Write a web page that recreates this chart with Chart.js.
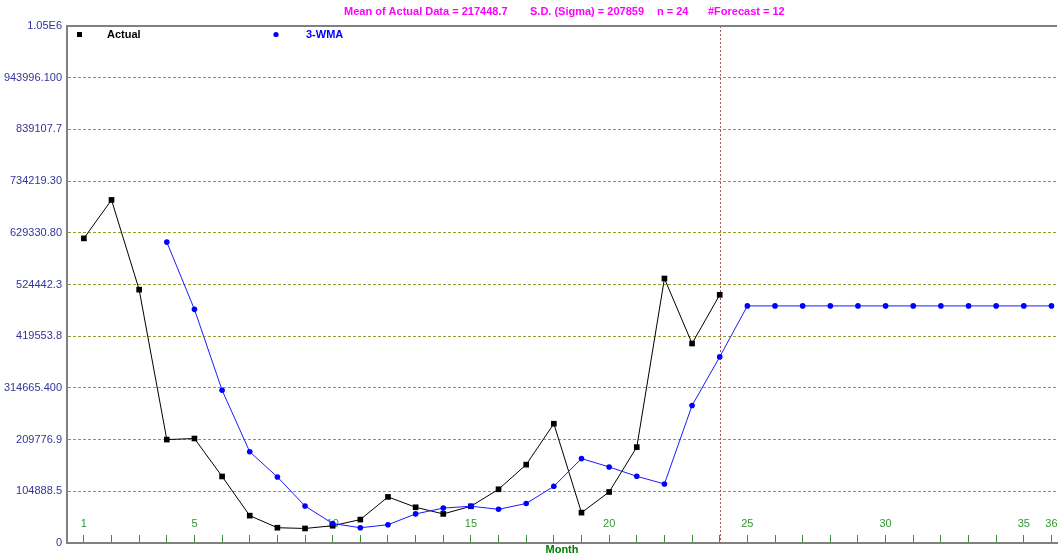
<!DOCTYPE html>
<html>
<head>
<meta charset="utf-8">
<script src="https://cdn.jsdelivr.net/npm/chart.js@4.4.0/dist/chart.umd.min.js"></script>
<style>
html,body{margin:0;padding:0;background:#ffffff;}
#wrap{width:1061px;height:557px;position:relative;}
</style>
</head>
<body>
<div id="wrap"><canvas id="c"></canvas></div>
<script>
// ---- data ----
const months = [1,2,3,4,5,6,7,8,9,10,11,12,13,14,15,16,17,18,19,20,21,22,23,24,25,26,27,28,29,30,31,32,33,34,35,36];
const actual = [618000,696000,514000,209800,212000,135000,55500,31000,29500,35000,47500,93500,72500,59000,74500,109000,159000,242000,61600,103500,194500,536600,404700,503500];
const wma = [null,null,null,610500,474000,310000,185000,134000,75000,39500,31000,37000,59000,70800,74600,68400,80200,115000,171200,154300,135300,119800,279000,377600,481000,481000,481000,481000,481000,481000,481000,481000,481000,481000,481000,481000];
const yTickValues = [0,104888.46,209776.92,314665.38,419553.84,524442.3,629330.76,734219.22,839107.68,943996.14,1048884.6];
const yTickLabels = ['0','104888.5','209776.9','314665.400','419553.8','524442.3','629330.80','734219.30','839107.7','943996.100','1.05E6'];
const xLabelMonths = [1,5,10,15,20,25,30,35,36];
const titleParts = ['Mean of Actual Data = 217448.7','S.D. (Sigma) = 207859','n = 24','#Forecast = 12'];
const seriesNames = ['Actual','3-WMA'];
const lastActualMonth = 24;

const FONT = '"Liberation Sans", Arial, sans-serif';

const actualPts = actual.map((v,i)=>({x:months[i], y:v}));
const wmaPts = wma.map((v,i)=>({x:months[i], y:v}));

const decor = {
  id:'decor',
  beforeDatasetsDraw(chart){
    const ctx = chart.ctx, xs = chart.scales.x, a = chart.chartArea;
    const px = Math.round(xs.getPixelForValue(lastActualMonth)) + 0.5;
    ctx.save();
    ctx.strokeStyle = '#a85858';
    ctx.lineWidth = 1;
    ctx.setLineDash([2,2]);
    ctx.beginPath(); ctx.moveTo(px, a.top); ctx.lineTo(px, a.bottom); ctx.stroke();
    // x tick labels (inside plot, above the axis)
    ctx.font = '11px ' + FONT;
    ctx.fillStyle = '#2e9a2e';
    ctx.textAlign = 'center';
    ctx.textBaseline = 'middle';
    xLabelMonths.forEach(m=>ctx.fillText(String(m), xs.getPixelForValue(m), a.bottom - 19));
    ctx.restore();
  },
  afterDraw(chart){
    const ctx = chart.ctx, a = chart.chartArea;
    ctx.save();
    // top frame line
    ctx.strokeStyle = '#808080'; ctx.lineWidth = 2;
    ctx.beginPath(); ctx.moveTo(a.left-1, a.top); ctx.lineTo(a.right, a.top); ctx.stroke();
    // title
    ctx.font = 'bold 11px ' + FONT;
    ctx.fillStyle = '#ff00ff';
    ctx.textAlign = 'left';
    ctx.textBaseline = 'middle';
    const tx = [344, 530, 657, 708];
    titleParts.forEach((t,i)=>ctx.fillText(t, tx[i], 12));
    // legend
    ctx.fillStyle = '#000000';
    ctx.fillRect(77, 32, 5, 5);
    ctx.fillText(seriesNames[0], 107, 34.5);
    ctx.fillStyle = '#0000ff';
    ctx.beginPath(); ctx.arc(276, 34.5, 2.6, 0, Math.PI*2); ctx.fill();
    ctx.fillText(seriesNames[1], 306, 34.5);
    ctx.restore();
  }
};

new Chart(document.getElementById('c'), {
  type:'line',
  data:{
    datasets:[
      {label:seriesNames[1], data:wmaPts, borderColor:'#1a1aff', backgroundColor:'#0000ff', borderWidth:1,
       pointStyle:'circle', pointRadius:2.8, pointBorderWidth:0, pointBackgroundColor:'#0000ff', tension:0, order:0, spanGaps:false},
      {label:seriesNames[0], data:actualPts, borderColor:'#000000', backgroundColor:'#000000', borderWidth:1,
       pointStyle:'rect', pointRadius:4, pointBorderWidth:0, pointBackgroundColor:'#000000', tension:0, order:1}
    ]
  },
  options:{
    responsive:true, maintainAspectRatio:false, animation:false, devicePixelRatio:1,
    layout:{padding:{top:26,left:0,right:0,bottom:0}},
    plugins:{legend:{display:false}, title:{display:false}, tooltip:{enabled:false}},
    scales:{
      x:{
        type:'linear', min:0.39, max:36.2,
        afterBuildTicks:s=>{ s.ticks = months.map(m=>({value:m})); },
        ticks:{display:false, autoSkip:false, maxRotation:0, minRotation:0},
        grid:{drawOnChartArea:false, drawTicks:true, tickLength:-8, tickColor:'#2e9a2e', tickWidth:1},
        border:{color:'#808080', width:2},
        title:{display:true, text:'Month', color:'#008000', font:{family:FONT, size:11, weight:'bold'}, padding:0},
        afterFit:s=>{ s.height = 14; s.paddingLeft = 0; s.paddingRight = 0; }
      },
      y:{
        min:0, max:1048884.6,
        afterBuildTicks:s=>{ s.ticks = yTickValues.map(v=>({value:v})); },
        ticks:{padding:5, color:'#333399', font:{family:FONT, size:11},
               callback:(v,i)=>yTickLabels[i]},
        grid:{drawTicks:false, lineWidth:1,
              color:c=> (c.index===0 || c.index===yTickValues.length-1) ? 'rgba(0,0,0,0)' : '#9a9a2a'},
        border:{color:'#808080', width:2, dash:[3,2]},
        afterFit:s=>{ s.width = 67; s.paddingTop = 0; s.paddingBottom = 0; }
      }
    }
  },
  plugins:[decor]
});
</script>
</body>
</html>
